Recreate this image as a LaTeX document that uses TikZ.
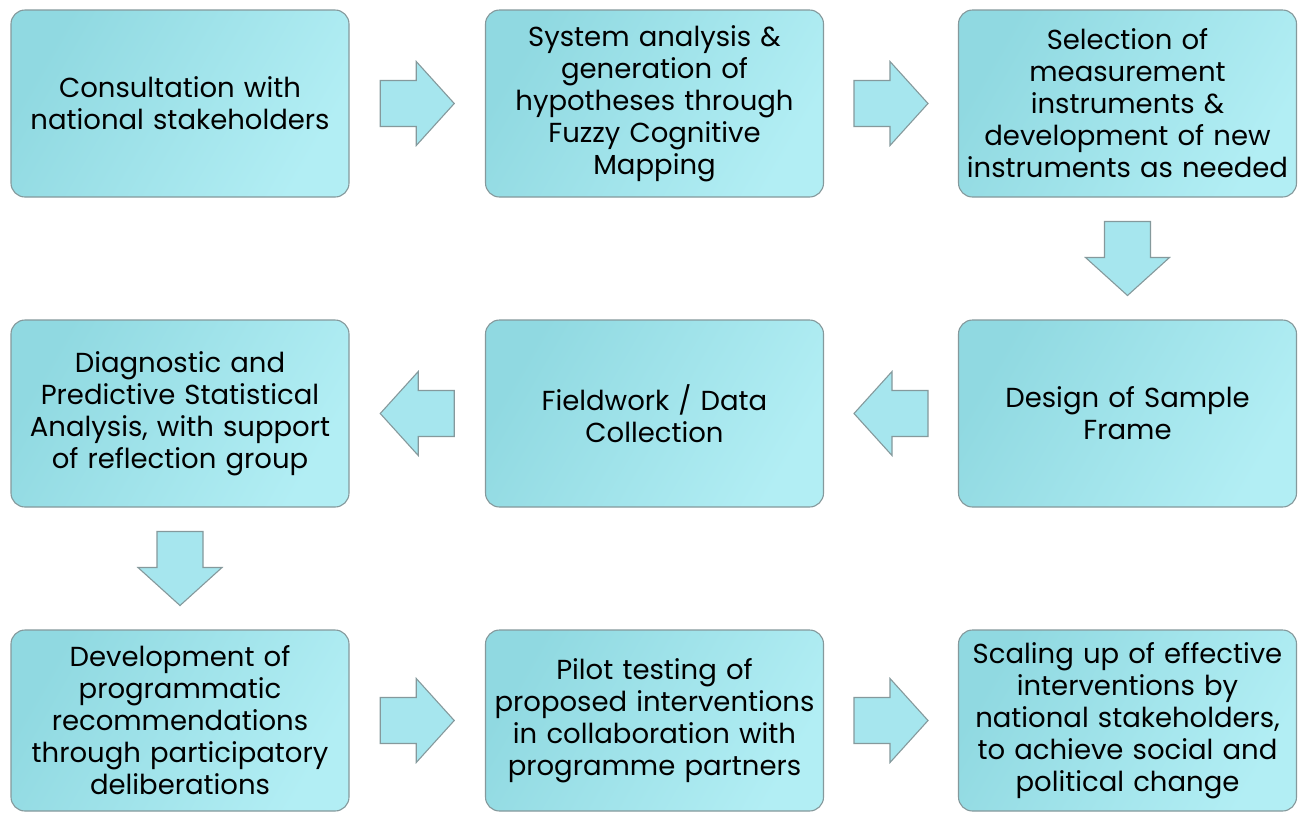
\documentclass[tikz,border=0pt]{standalone}
\usepackage{fontspec}
\setmainfont{Poppins}
\usetikzlibrary{calc}
\definecolor{boxA}{HTML}{90D9E1}
\definecolor{boxB}{HTML}{B2EEF4}
\definecolor{edge}{HTML}{85999C}
\definecolor{arrfill}{HTML}{A6E6EE}
\tikzset{
  stepbox/.style={draw=edge, line width=1.1pt, rounded corners=14pt,
    left color=boxA, right color=boxB, shading angle=60,
    minimum width=338pt, minimum height=187pt, text width=336pt,
    align=center, inner sep=1pt,
    font=\fontsize{27.5}{32}\selectfont, text=black},
  blockarrow/.pic={\draw[draw=edge, line width=1.1pt, fill=arrfill]
    (-37,-23) -- (-1,-23) -- (-1,-42) -- (37,0) -- (-1,42) -- (-1,23) -- (-37,23) -- cycle;}
}
\begin{document}
\begin{tikzpicture}[x=1pt,y=-1pt]
\useasboundingbox[fill=white] (0,0) rectangle (1298,812);
\node[stepbox] (b1) at (180,103.5) {Consultation with\\national stakeholders};
\node[stepbox] (b2) at (654.5,103.5) {System analysis \&\\generation of\\hypotheses through\\Fuzzy Cognitive\\Mapping};
\node[stepbox] (b3) at (1127.5,103.5) {Selection of\\measurement\\instruments \&\\development of new\\instruments as needed};
\node[stepbox] (b6) at (1127.5,413.5) {Design of Sample\\Frame};
\node[stepbox] (b5) at (654.5,413.5) {Fieldwork / Data\\Collection};
\node[stepbox] (b4) at (180,413.5) {Diagnostic and\\Predictive Statistical\\Analysis, with support\\of reflection group};
\node[stepbox, minimum height=181pt] (b7) at (180,720.5) {Development of\\programmatic\\recommendations\\through participatory\\deliberations};
\node[stepbox, minimum height=181pt] (b8) at (654.5,720.5) {Pilot testing of\\proposed interventions\\in collaboration with\\programme partners};
\node[stepbox, minimum height=181pt] (b9) at (1127.5,720.5) {Scaling up of effective\\interventions by\\national stakeholders,\\to achieve social and\\political change};
\coordinate (a12) at ($(b1.east)!0.5!(b2.west)$);
\coordinate (a23) at ($(b2.east)!0.5!(b3.west)$);
\coordinate (a36) at ($(b3.south)!0.5!(b6.north)$);
\coordinate (a65) at ($(b6.west)!0.5!(b5.east)$);
\coordinate (a54) at ($(b5.west)!0.5!(b4.east)$);
\coordinate (a47) at ($(b4.south)!0.5!(b7.north)$);
\coordinate (a78) at ($(b7.east)!0.5!(b8.west)$);
\coordinate (a89) at ($(b8.east)!0.5!(b9.west)$);
\pic at (a12) {blockarrow};
\pic at (a23) {blockarrow};
\pic[rotate=-90] at (a36) {blockarrow};
\pic[rotate=180] at (a65) {blockarrow};
\pic[rotate=180] at (a54) {blockarrow};
\pic[rotate=-90] at (a47) {blockarrow};
\pic at (a78) {blockarrow};
\pic at (a89) {blockarrow};
\end{tikzpicture}
\end{document}
